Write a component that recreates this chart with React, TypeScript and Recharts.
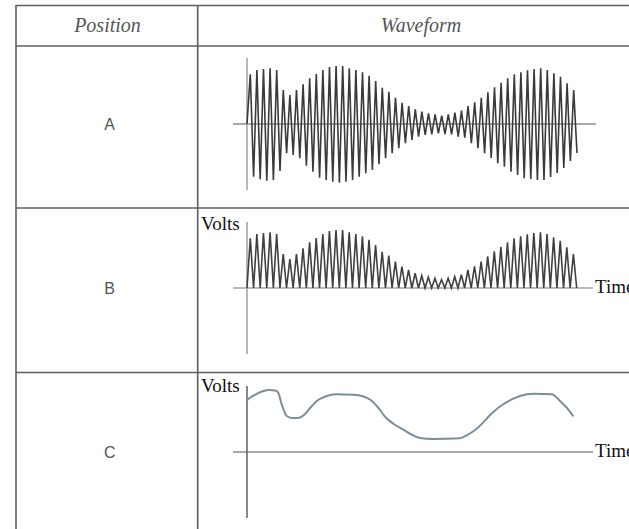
import { LineChart, Line, XAxis, YAxis, ReferenceLine } from "recharts";

// table text
const headers = ["Position", "Waveform"];
const positions = ["A", "B", "C"];
const yLabel = "Volts";
const xLabel = "Time";

// peak / trough height of each carrier cycle (row A)
const peaks = [
  49.7, 54, 55, 55.7, 54, 34, 29, 34, 39.7, 45.7,
  50, 54, 57, 58, 58, 55.7, 54, 51.7, 48.3, 43,
  36.3, 32.3, 26.3, 21.3, 18, 14.7, 12.3, 10.7, 9.7, 8.3,
  9.7, 11.3, 13.3, 18, 21.7, 26.3, 31.7, 36.7, 41.3, 45.7,
  49.7, 51.7, 53.7, 55, 55.7, 54, 50.7, 47.3, 40.7, 34,
];
const troughs = [
  52.7, 55.3, 56.7, 56, 47, 29.3, 31, 34.3, 41.7, 47.7,
  53.7, 56, 57.7, 58.7, 57.7, 56, 52.7, 49.3, 46, 40.3,
  34.3, 29.3, 24.3, 19.3, 16, 12.7, 11, 10.3, 9.3, 10,
  10.3, 12.7, 13.7, 19.3, 24.3, 29.3, 34, 39.3, 42.7, 47.7,
  51, 54.3, 55, 56, 56, 53, 49, 44, 37, 29,
];

// row C envelope: time (in carrier cycles) and height
const envTime = [
  0, 0.61, 1.36, 2.38, 3.38, 4.4, 4.81, 5.16, 5.5, 6.02,
  6.93, 7.93, 8.69, 9.71, 10.72, 11.98, 13.5, 16.27, 17.55, 18.8,
  19.82, 20.97, 22.19, 23.46, 26.24, 28.25, 32.3, 33.32, 34.83, 37.35,
  38.63, 40.39, 41.4, 43.42, 46.21, 47.47, 48.48, 49.48,
];
const envValue = [
  51.7, 55, 57.7, 60.7, 62, 61.3, 58.3, 50, 43.3, 36,
  34, 34.3, 37.3, 45, 51.7, 55.7, 57.7, 57.3, 55.7, 51.7,
  45, 35, 28.3, 23.3, 14, 13, 13.7, 16.7, 23.3, 40,
  46.7, 53.3, 56, 58.3, 57.7, 51, 44.3, 35.7,
];

const modulated = [{ t: 0, v: 0 }];
const rectified = [{ t: 0, v: 0 }];
peaks.forEach((p, i) => {
  modulated.push({ t: i + 0.5, v: p }, { t: i + 1, v: -troughs[i] });
  rectified.push({ t: i + 0.5, v: p }, { t: i + 1, v: 0 });
});
const envelope = envTime.map((t, i) => ({ t, v: envValue[i] }));

const X_MIN = -2.12;
const SERIF = "'Liberation Serif', 'Times New Roman', serif";
const SANS = "'Liberation Sans', Arial, sans-serif";
const LINE = "#5e5e5e";

function Wave({ data, top, xMax, width, stroke, strokeWidth, vAxis, hAxis, curve }: any) {
  return (
    <div style={{ position: "absolute", left: 233, top, width, height: 132 }}>
      <LineChart width={width} height={132} data={data} margin={{ top: 0, right: 0, bottom: 0, left: 0 }}>
        <XAxis type="number" dataKey="t" domain={[X_MIN, xMax]} hide allowDataOverflow />
        <YAxis type="number" domain={[-66, 66]} hide allowDataOverflow />
        <ReferenceLine y={0} stroke={hAxis} strokeWidth={1.2} />
        <ReferenceLine x={0} stroke={vAxis} strokeWidth={1.4} />
        <Line
          dataKey="v"
          type={curve}
          stroke={stroke}
          strokeWidth={strokeWidth}
          dot={false}
          activeDot={false}
          isAnimationActive={false}
        />
      </LineChart>
    </div>
  );
}

export default function App() {
  const rowMid = [124, 288, 452];
  return (
    <div style={{ position: "fixed", left: 0, top: 0, width: 629, height: 529, overflow: "hidden", background: "#fff" }}>
      <svg width={629} height={529} style={{ position: "absolute", left: 0, top: 0 }}>
        {/* table grid */}
        <line x1={16} y1={5.5} x2={629} y2={5.5} stroke={LINE} strokeWidth={1.6} />
        <line x1={16} y1={46} x2={629} y2={46} stroke={LINE} strokeWidth={1.6} />
        <line x1={16} y1={208} x2={629} y2={208} stroke={LINE} strokeWidth={1.6} />
        <line x1={16} y1={372.5} x2={629} y2={372.5} stroke={LINE} strokeWidth={1.6} />
        <line x1={16} y1={5} x2={16} y2={529} stroke={LINE} strokeWidth={1.6} />
        <line x1={197.7} y1={5} x2={197.7} y2={529} stroke={LINE} strokeWidth={1.6} />

        <text x={107.5} y={32} textAnchor="middle" fontFamily={SERIF} fontStyle="italic" fontSize={20} fill="#555">
          {headers[0]}
        </text>
        <text x={421} y={32} textAnchor="middle" fontFamily={SERIF} fontStyle="italic" fontSize={20} fill="#555">
          {headers[1]}
        </text>

        {positions.map((p, i) => (
          <text key={p} x={109.7} y={rowMid[i]} dy="0.36em" textAnchor="middle" fontFamily={SANS} fontSize={16} fill="#555">
            {p}
          </text>
        ))}

        <text x={201} y={230} fontFamily={SERIF} fontSize={19} fill="#111">{yLabel}</text>
        <text x={595} y={292.5} fontFamily={SERIF} fontSize={19} fill="#111">{xLabel}</text>
        <text x={201} y={392} fontFamily={SERIF} fontSize={19} fill="#111">{yLabel}</text>
        <text x={595} y={457} fontFamily={SERIF} fontSize={19} fill="#111">{xLabel}</text>
      </svg>

      <Wave data={modulated} top={58} xMax={52.88} width={363} stroke="#3a3a3a" strokeWidth={1.6}
        vAxis="#999" hAxis="#555" curve="linear" />
      <Wave data={rectified} top={221.7} xMax={52.47} width={360} stroke="#404040" strokeWidth={1.6}
        vAxis="#999" hAxis="#777" curve="linear" />
      <Wave data={envelope} top={386} xMax={52.47} width={360} stroke="#7d8d97" strokeWidth={2}
        vAxis="#555" hAxis="#555" curve="monotone" />
    </div>
  );
}
